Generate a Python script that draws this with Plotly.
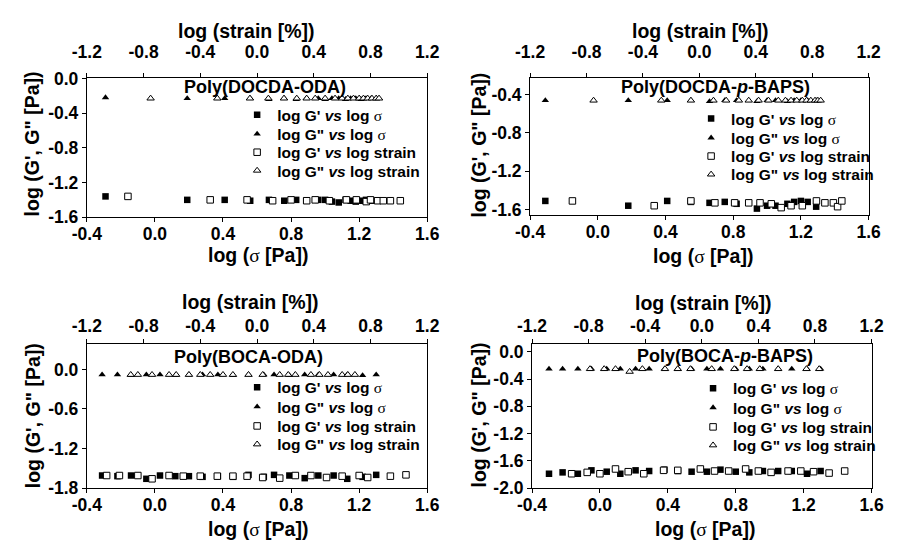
import plotly.graph_objects as go

W, H = 901, 552
FONT = "Liberation Sans, Arial, Helvetica, sans-serif"
SIG = "<span style=\"font-family:'Liberation Serif', 'DejaVu Serif', serif; font-weight:normal\">σ</span>"

# ---------------- data ----------------
# Panel 1: Poly(DOCDA-ODA)
p1_sigma = [-0.29, 0.19, 0.41, 0.56, 0.67, 0.76, 0.83, 0.89, 0.96, 1.00, 1.04, 1.08, 1.12, 1.15, 1.18, 1.21, 1.24, 1.27, 1.30]
p1_gp_sigma = [-1.36, -1.40, -1.40, -1.41, -1.40, -1.41, -1.40, -1.41, -1.40, -1.40, -1.42, -1.43, -1.40, -1.41, -1.42, -1.41, -1.40, -1.41, -1.41]
p1_gpp_sigma = [-0.22, -0.23, -0.23, -0.23, -0.24, -0.23, -0.24, -0.23, -0.23, -0.24, -0.23, -0.23, -0.24, -0.23, -0.23, -0.24, -0.23, -0.23, -0.23]
p1_strain_gp = [-0.91, -0.33, -0.07, 0.11, 0.24, 0.35, 0.41, 0.51, 0.63, 0.70, 0.77, 0.80, 0.85, 0.89, 0.94, 1.01]
p1_gp_strain = [-1.36, -1.40, -1.40, -1.41, -1.40, -1.41, -1.40, -1.41, -1.40, -1.40, -1.42, -1.40, -1.41, -1.41, -1.41, -1.41]
p1_strain_gpp = [-0.75, -0.28, -0.05, 0.08, 0.19, 0.28, 0.35, 0.41, 0.48, 0.55, 0.60, 0.64, 0.68, 0.72, 0.75, 0.78, 0.81, 0.84, 0.86]
p1_gpp_strain = [-0.23] * 19

# Panel 2: Poly(DOCDA-p-BAPS)
p2_sigma = [-0.31, 0.18, 0.41, 0.55, 0.66, 0.75, 0.82, 0.94, 1.00, 1.05, 1.12, 1.16, 1.20, 1.24, 1.29]
p2_gp_sigma = [-1.51, -1.56, -1.51, -1.52, -1.53, -1.52, -1.54, -1.59, -1.56, -1.56, -1.54, -1.52, -1.51, -1.52, -1.57]
p2_gpp_sigma = [-0.46, -0.46, -0.46, -0.46, -0.47, -0.46, -0.46, -0.47, -0.46, -0.46, -0.47, -0.46, -0.46, -0.46, -0.46]
p2_strain_gp = [-0.90, -0.32, -0.06, 0.11, 0.25, 0.35, 0.43, 0.51, 0.58, 0.65, 0.73, 0.83, 0.89, 0.95, 0.98, 1.01]
p2_gp_strain = [-1.51, -1.56, -1.51, -1.53, -1.53, -1.53, -1.53, -1.54, -1.58, -1.56, -1.56, -1.51, -1.53, -1.53, -1.57, -1.51]
p2_strain_gpp = [-0.75, -0.27, -0.06, 0.10, 0.19, 0.28, 0.35, 0.42, 0.49, 0.56, 0.61, 0.65, 0.69, 0.73, 0.76, 0.79, 0.82, 0.84, 0.86]
p2_gpp_strain = [-0.46] * 19

# Panel 3: Poly(BOCA-ODA)
p3_sigma = [-0.31, -0.22, -0.14, -0.05, 0.03, 0.12, 0.20, 0.28, 0.37, 0.46, 0.55, 0.64, 0.70, 0.79, 0.88, 0.96, 1.05, 1.13, 1.22, 1.30]
p3_gp_sigma = [-1.61, -1.62, -1.61, -1.66, -1.61, -1.62, -1.62, -1.63, -1.62, -1.63, -1.60, -1.63, -1.60, -1.61, -1.65, -1.61, -1.61, -1.66, -1.63, -1.60]
p3_gpp_sigma = [-0.08, -0.08, -0.09, -0.08, -0.08, -0.09, -0.08, -0.08, -0.08, -0.09, -0.08, -0.08, -0.08, -0.09, -0.08, -0.08, -0.08, -0.08, -0.09, -0.08]
p3_strain_gp = [-1.06, -0.97, -0.84, -0.74, -0.62, -0.52, -0.40, -0.28, -0.17, -0.07, 0.04, 0.16, 0.27, 0.38, 0.49, 0.60, 0.72, 0.78, 0.94, 1.05]
p3_gp_strain = [-1.61, -1.61, -1.61, -1.66, -1.61, -1.62, -1.62, -1.62, -1.62, -1.62, -1.64, -1.65, -1.61, -1.61, -1.64, -1.62, -1.61, -1.64, -1.62, -1.60]
p3_strain_gpp = [-0.89, -0.84, -0.74, -0.62, -0.57, -0.48, -0.40, -0.33, -0.24, -0.17, -0.06, 0.04, 0.16, 0.22, 0.27, 0.38, 0.44, 0.50, 0.60, 0.64, 0.69]
p3_gpp_strain = [-0.08] * 21

# Panel 4: Poly(BOCA-p-BAPS)
p4_sigma = [-0.30, -0.22, -0.13, -0.05, 0.04, 0.12, 0.21, 0.29, 0.38, 0.46, 0.54, 0.63, 0.71, 0.80, 0.88, 0.96, 1.05, 1.13, 1.22, 1.30]
p4_gp_sigma = [-1.79, -1.77, -1.79, -1.74, -1.76, -1.79, -1.74, -1.75, -1.73, -1.75, -1.76, -1.76, -1.73, -1.76, -1.77, -1.75, -1.75, -1.75, -1.79, -1.75]
p4_gpp_sigma = [-0.25] * 20
p4_strain_gp = [-0.92, -0.81, -0.72, -0.61, -0.52, -0.41, -0.27, -0.17, -0.01, 0.09, 0.19, 0.31, 0.40, 0.49, 0.61, 0.70, 0.79, 0.90, 1.01]
p4_gp_strain = [-1.79, -1.77, -1.79, -1.72, -1.76, -1.79, -1.74, -1.74, -1.72, -1.75, -1.75, -1.72, -1.75, -1.77, -1.75, -1.75, -1.76, -1.78, -1.75]
p4_strain_gpp = [-0.79, -0.69, -0.61, -0.51, -0.42, -0.26, -0.17, -0.08, 0.07, 0.23, 0.32, 0.41, 0.54, 0.74, 0.83]
p4_gpp_strain = [-0.25, -0.25, -0.25, -0.29, -0.25, -0.25, -0.25, -0.25, -0.25, -0.25, -0.25, -0.25, -0.25, -0.25, -0.25]

panel_titles = ["Poly(DOCDA-ODA)", "Poly(DOCDA-<i>p</i>-BAPS)", "Poly(BOCA-ODA)", "Poly(BOCA-<i>p</i>-BAPS)"]
series_names = ["log G' <i>vs</i> log " + SIG, 'log G" <i>vs</i> log ' + SIG,
                "log G' <i>vs</i> log strain", 'log G" <i>vs</i> log strain']

sigma_ticks = [-0.4, 0.0, 0.4, 0.8, 1.2, 1.6]
sigma_ticklabels = ["-0.4", "0.0", "0.4", "0.8", "1.2", "1.6"]
strain_ticks = [-1.2, -0.8, -0.4, 0.0, 0.4, 0.8, 1.2]
strain_ticklabels = ["-1.2", "-0.8", "-0.4", "0.0", "0.4", "0.8", "1.2"]
y_ticks = [[-1.6, -1.2, -0.8, -0.4, 0.0], [-1.6, -1.2, -0.8, -0.4],
           [-1.8, -1.2, -0.6, 0.0], [-2.0, -1.6, -1.2, -0.8, -0.4, 0.0]]
y_ticklabels = [["-1.6", "-1.2", "-0.8", "-0.4", "0.0"], ["-1.6", "-1.2", "-0.8", "-0.4"],
                ["-1.8", "-1.2", "-0.6", "0.0"], ["-2.0", "-1.6", "-1.2", "-0.8", "-0.4", "0.0"]]

x_title_top = "log (strain [%])"
x_title_bottom = "log (" + SIG + " [Pa])"
y_title = 'log (G\', G" [Pa])'

data = [
    (p1_sigma, p1_gp_sigma, p1_gpp_sigma, p1_strain_gp, p1_gp_strain, p1_strain_gpp, p1_gpp_strain),
    (p2_sigma, p2_gp_sigma, p2_gpp_sigma, p2_strain_gp, p2_gp_strain, p2_strain_gpp, p2_gpp_strain),
    (p3_sigma, p3_gp_sigma, p3_gpp_sigma, p3_strain_gp, p3_gp_strain, p3_strain_gpp, p3_gpp_strain),
    (p4_sigma, p4_gp_sigma, p4_gpp_sigma, p4_strain_gp, p4_gp_strain, p4_strain_gpp, p4_gpp_strain),
]

# ---------------- layout geometry (pixels) ----------------
frames = [(74, 425, 71, 215), (531, 880, 71, 213), (74, 425, 347, 496), (533, 883, 347, 496)]
y_ranges = [[-1.6, 0.0], [-1.66, -0.23], [-1.8, 0.38], [-2.0, 0.11]]
top_standoff = [8, 8, 0, 0]
legend_x = [229, 697, 229, 699]
legend_rows = [[109, 129, 148, 167], [113, 133, 152, 171], [392, 412, 432, 451], [393, 413, 433, 452]]
title_pos = [(258, 80), (722, 80), (241, 360), (732, 359)]
top_title_pos = [(239, 22), (707, 22), (243, 303), (710, 304)]
bottom_title_pos = [(250, 254), (709, 255), (250, 538), (711, 538)]
ytitle_pos = [(18, 139), (478, 140), (18, 421), (478, 420)]

def px(x):
    return x / W

def py(y):
    return (H - y) / H

fig = go.Figure()
layout = dict(width=W, height=H, margin=dict(l=0, r=0, t=0, b=0),
              paper_bgcolor="white", plot_bgcolor="white",
              font=dict(family=FONT, size=17, color="black", weight="bold"),
              annotations=[])

axis_common = dict(showline=True, linecolor="black", linewidth=1, ticks="outside", ticklen=4,
                   tickcolor="black", tickwidth=1, showgrid=False, zeroline=False,
                   tickfont=dict(family=FONT, size=17.5, color="black", weight="bold"))

marker_styles = [
    dict(symbol="square", size=6.5, color="black", line=dict(width=0)),
    dict(symbol="triangle-up", size=6.5, color="black", line=dict(width=0)),
    dict(symbol="square", size=6.5, color="white", line=dict(width=1, color="black")),
    dict(symbol="triangle-up", size=6.5, color="white", line=dict(width=1, color="black")),
]

for i, (l, r, t, b) in enumerate(frames):
    bx = "x" if i == 0 else f"x{2 * i + 1}"
    tx = f"x{2 * i + 2}"
    yy = "y" if i == 0 else f"y{i + 1}"
    bxk = "xaxis" if i == 0 else f"xaxis{2 * i + 1}"
    txk = f"xaxis{2 * i + 2}"
    yk = "yaxis" if i == 0 else f"yaxis{i + 1}"

    layout[bxk] = dict(axis_common, domain=[px(l), px(r)], range=[-0.4, 1.6], anchor=yy,
                       tickvals=sigma_ticks, ticktext=sigma_ticklabels, ticklabelstandoff=-3)
    layout[txk] = dict(axis_common, overlaying=bx, side="top", range=[-1.2, 1.2], anchor=yy,
                       tickvals=strain_ticks, ticktext=strain_ticklabels,
                       ticklabelstandoff=top_standoff[i])
    layout[yk] = dict(axis_common, domain=[py(b), py(t)], range=y_ranges[i], anchor=bx, mirror=True,
                      tickvals=y_ticks[i], ticktext=y_ticklabels[i])

    sig, gps, gpps, stgp, gpst, stgpp, gppst = data[i]
    series = [(sig, gps, bx), (sig, gpps, bx), (stgp, gpst, tx), (stgpp, gppst, tx)]
    for k, (xs, ys, xa) in enumerate(series):
        n = 4 * i + k + 1
        lg = "legend" if n == 1 else f"legend{n}"
        fig.add_trace(go.Scatter(x=xs, y=ys, xaxis=xa, yaxis=yy, mode="markers",
                                 marker=marker_styles[k], name=series_names[k],
                                 legend=lg, showlegend=True, cliponaxis=False))
        layout[lg] = dict(x=px(legend_x[i]), y=py(legend_rows[i][k]), xanchor="left", yanchor="middle",
                          bgcolor="rgba(0,0,0,0)", borderwidth=0,
                          font=dict(family=FONT, size=15.5, color="black", weight="bold"))

    ann = layout["annotations"]
    tx_, ty_ = title_pos[i]
    ann.append(dict(text=panel_titles[i], x=px(tx_), y=py(ty_), xref="paper", yref="paper",
                    showarrow=False, xanchor="center", yanchor="middle",
                    font=dict(family=FONT, size=18, color="black", weight="bold")))
    ax_, ay_ = top_title_pos[i]
    ann.append(dict(text=x_title_top, x=px(ax_), y=py(ay_), xref="paper", yref="paper",
                    showarrow=False, xanchor="center", yanchor="middle",
                    font=dict(family=FONT, size=19.5, color="black", weight="bold")))
    ax_, ay_ = bottom_title_pos[i]
    ann.append(dict(text=x_title_bottom, x=px(ax_), y=py(ay_), xref="paper", yref="paper",
                    showarrow=False, xanchor="center", yanchor="middle",
                    font=dict(family=FONT, size=19.5, color="black", weight="bold")))
    ax_, ay_ = ytitle_pos[i]
    ann.append(dict(text=y_title, x=px(ax_), y=py(ay_), xref="paper", yref="paper",
                    showarrow=False, xanchor="center", yanchor="middle", textangle=-90,
                    font=dict(family=FONT, size=19.5, color="black", weight="bold")))

fig.update_layout(**layout)
fig.write_html("out.html")
